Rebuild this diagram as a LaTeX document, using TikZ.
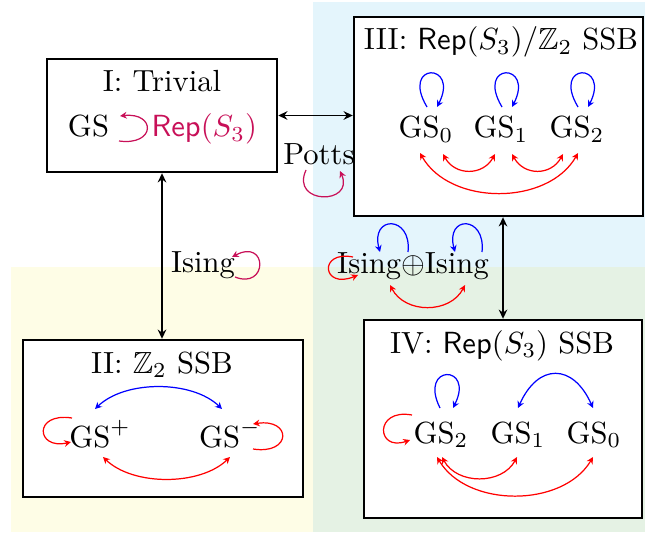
\documentclass[tikz,border=0pt]{standalone}
\usepackage{amssymb}
\usetikzlibrary{arrows.meta,fit}
\definecolor{crim}{RGB}{200,16,88}
\definecolor{bgblue}{RGB}{228,245,252}
\definecolor{bgyellow}{RGB}{254,253,230}
\definecolor{bggreen}{RGB}{229,242,228}
\begin{document}
\begin{tikzpicture}[x=0.327pt,y=-0.327pt,
  box/.style={draw,line width=0.8pt,inner sep=0pt,fill=white},
  lab/.style={inner sep=0pt,anchor=base},
  conn/.style={line width=0.6pt,{Stealth[length=3pt,width=2.8pt]}-{Stealth[length=3pt,width=2.8pt]}},
  tipc/.style={-{Stealth[length=2.2pt,width=2.2pt]}},
  both/.style={{Stealth[length=2.2pt,width=2.2pt]}-{Stealth[length=2.2pt,width=2.2pt]}},
  rl/.style={red,line width=0.4pt},
  bl/.style={blue,line width=0.4pt},
  cl/.style={crim,line width=0.4pt}]
\useasboundingbox (0,0) rectangle (645,532);
\fill[bgblue] (313,2) rectangle (645,267);
\fill[bgyellow] (11,267) rectangle (313,532);
\fill[bggreen] (313,267) rectangle (645,532);

% boxes
\node[box,fit={(47,59) (277,172)}] (I) {};
\node[box,fit={(354,17) (643,216)}] (III) {};
\node[box,fit={(23,340) (303,497)}] (II) {};
\node[box,fit={(364,320) (642,518)}] (IV) {};

% box I
\node[lab] (tI) at (162,92) {I: Trivial};
\node[lab] (gsI) at (88.5,137) {GS};
\node[lab,anchor=base west,text=crim] (rep) at (151,137) {$\mathsf{Rep}(S_3)$};
\draw[cl,tipc] ([shift={(-32,4)}]rep.base west) .. controls +(37,5) and +(36,-4) .. ([shift={(-31,-21)}]rep.base west);

% box III
\node[lab] (tIII) at (501,50) {III: $\mathsf{Rep}(S_3)/\mathbb{Z}_2$ SSB};
\node[lab] (g0) at (426,138) {$\mathrm{GS}_0$};
\node[lab] (g1) at (501,138) {$\mathrm{GS}_1$};
\node[lab] (g2) at (577,138) {$\mathrm{GS}_2$};
\foreach \n in {g0,g1,g2}{
  \draw[bl,tipc] ([shift={(1,-31)}]\n.base) .. controls +(-27,-45) and +(23,-45) .. ([shift={(11,-31)}]\n.base);
}
\draw[rl,both] ([shift={(17,16)}]g0.base) .. controls +(12,22) and +(-12,22) .. ([shift={(-6,16)}]g1.base);
\draw[rl,both] ([shift={(11,16)}]g1.base) .. controls +(12,22) and +(-12,22) .. ([shift={(-14,16)}]g2.base);
\draw[rl,both] ([shift={(-6,15)}]g0.base) .. controls +(30,53) and +(-30,53) .. ([shift={(1,15)}]g2.base);

% box II
\node[lab] (tII) at (162,373) {II: $\mathbb{Z}_2$ SSB};
\node[lab] (gp) at (100,447) {$\mathrm{GS}^+$};
\node[lab] (gm) at (230,447) {$\mathrm{GS}^-$};
\draw[bl,both] ([shift={(-5,-38)}]gp.base) .. controls +(30,-29) and +(-30,-29) .. ([shift={(-8,-38)}]gm.base);
\draw[rl,both] ([shift={(3,10)}]gp.base) .. controls +(30,29) and +(-30,29) .. ([shift={(0,10)}]gm.base);
\draw[rl,tipc] ([shift={(-28,-29)}]gp.base) .. controls +(-39,-6) and +(-35,8) .. ([shift={(-29,-5)}]gp.base);
\draw[rl,tipc] ([shift={(23,2)}]gm.base) .. controls +(39,6) and +(39,-6) .. ([shift={(23,-23)}]gm.base);

% box IV
\node[lab] (tIV) at (502,353) {IV: $\mathsf{Rep}(S_3)$ SSB};
\node[lab] (h2) at (441,443) {$\mathrm{GS}_2$};
\node[lab] (h1) at (518,443) {$\mathrm{GS}_1$};
\node[lab] (h0) at (594,443) {$\mathrm{GS}_0$};
\draw[bl,tipc] ([shift={(-1,-35)}]h2.base) .. controls +(-22,-44) and +(22,-44) .. ([shift={(12,-35)}]h2.base);
\draw[bl,both] ([shift={(0,-35)}]h1.base) .. controls +(20,-45) and +(-20,-45) .. ([shift={(-1,-35)}]h0.base);
\draw[rl,tipc] ([shift={(-29,-28)}]h2.base) .. controls +(-38,-7) and +(-34,12) .. ([shift={(-31,-3)}]h2.base);
\draw[rl,both] ([shift={(1,14)}]h2.base) .. controls +(15,28) and +(-15,28) .. ([shift={(-1,14)}]h1.base);
\draw[rl,both] ([shift={(-4,14)}]h2.base) .. controls +(30,51) and +(-30,51) .. ([shift={(-1,14)}]h0.base);

% transitions
\draw[conn] (I.east) -- (I.east -| III.west);
\draw[conn] (I.south) -- (I.south |- II.north);
\draw[conn] (IV.north |- III.south) -- (IV.north);

\node[lab] (potts) at (319,165) {Potts};
\draw[cl,tipc] ([shift={(-13,5)}]potts.base) .. controls +(-16,35) and +(15,34) .. ([shift={(21,6)}]potts.base);

\node[lab] (ising) at (203,272) {Ising};
\draw[cl,tipc] ([shift={(32,5)}]ising.base) .. controls +(33,13) and +(36,-19) .. ([shift={(29,-15)}]ising.base);

\node[lab] (ii) at (413,273) {Ising$\oplus$Ising};
\draw[rl,tipc] ([shift={(-60,-16)}]ii.base) .. controls +(-35,-7) and +(-36,15) .. ([shift={(-55,2)}]ii.base);
\draw[bl,tipc] ([shift={(-5,-21)}]ii.base) .. controls +(4,-37) and +(-10,-37) .. ([shift={(-33,-21)}]ii.base);
\draw[bl,tipc] ([shift={(69,-21)}]ii.base) .. controls +(4,-37) and +(-10,-37) .. ([shift={(42,-21)}]ii.base);
\draw[rl,both] ([shift={(-23,12)}]ii.base) .. controls +(15,29) and +(-15,29) .. ([shift={(52,12)}]ii.base);
\end{tikzpicture}
\end{document}
